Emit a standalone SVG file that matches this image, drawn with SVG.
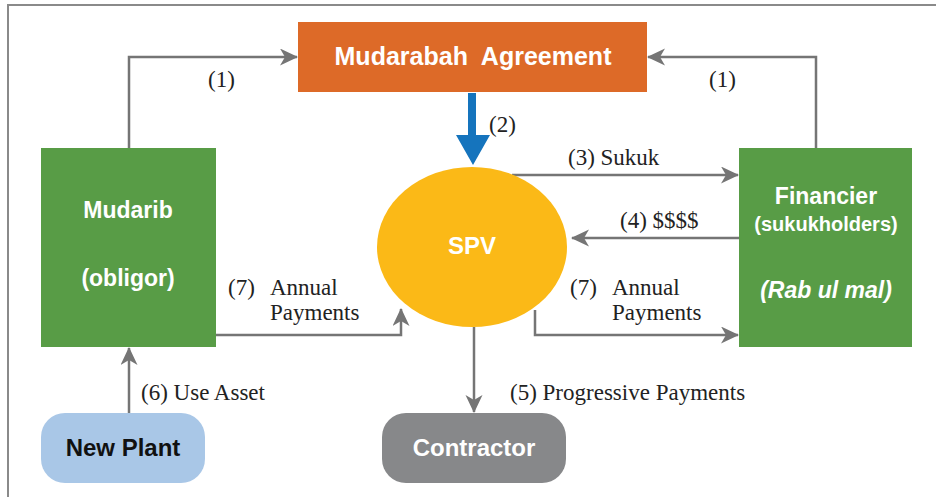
<svg xmlns="http://www.w3.org/2000/svg" width="936" height="497" viewBox="0 0 936 497">
<defs>
<style>
.box{font-family:"Liberation Sans",Arial,sans-serif;font-weight:bold;fill:#fff;text-anchor:middle}
.lbl{font-family:"Liberation Serif","Times New Roman",serif;font-size:23px;fill:#222}
.conn{fill:none;stroke:#757575;stroke-width:2.5}
</style>
<marker id="ah" markerUnits="userSpaceOnUse" markerWidth="20" markerHeight="18" refX="17" refY="8.5" orient="auto">
<path d="M0,0 L18,8.5 L0,17 L5,8.5 z" fill="#757575"/>
</marker>
</defs>
<rect x="0" y="0" width="936" height="497" fill="#fff"/>
<rect x="8" y="5" width="940" height="500" fill="none" stroke="#8a8a8a" stroke-width="2"/>

<g id="connectors">
<path class="conn" d="M129,148 V57 H297" marker-end="url(#ah)"/>
<path class="conn" d="M816,148 V57 H648" marker-end="url(#ah)"/>
<path class="conn" d="M512,175 H738" marker-end="url(#ah)"/>
<path class="conn" d="M739,238 H572" marker-end="url(#ah)"/>
<path class="conn" d="M216,335 H401 V309" marker-end="url(#ah)"/>
<path class="conn" d="M535,310 V335 H738" marker-end="url(#ah)"/>
<path class="conn" d="M474,327 V412" marker-end="url(#ah)"/>
<path class="conn" d="M129,413 V348" marker-end="url(#ah)"/>
<polygon points="468,93 476,93 476,135 490,135 473,165 456,135 468,135" fill="#1574BD"/>
<text class="lbl" x="208" y="87">(1)</text>
<text class="lbl" x="709" y="87">(1)</text>
<text class="lbl" x="489" y="132">(2)</text>
<text class="lbl" x="568" y="165">(3) Sukuk</text>
<text class="lbl" x="620" y="228">(4) $$$$</text>
<text class="lbl" x="228" y="295">(7)</text>
<text class="lbl" x="270" y="295">Annual</text>
<text class="lbl" x="270" y="320">Payments</text>
<text class="lbl" x="570" y="295">(7)</text>
<text class="lbl" x="612" y="295">Annual</text>
<text class="lbl" x="612" y="320">Payments</text>
<text class="lbl" x="510" y="400">(5) Progressive Payments</text>
<text class="lbl" x="141" y="400">(6) Use Asset</text>
</g>

<g id="agreement">
<rect x="298" y="22" width="349" height="70" fill="#DD6A28"/>
<text class="box" x="473" y="65" font-size="25" xml:space="preserve">Mudarabah  Agreement</text>
</g>

<g id="mudarib">
<rect x="41" y="148" width="175" height="199" fill="#589C46"/>
<text class="box" x="128" y="218" font-size="23">Mudarib</text>
<text class="box" x="128" y="286" font-size="23">(obligor)</text>
</g>

<g id="financier">
<rect x="739" y="148" width="173" height="199" fill="#589C46"/>
<text class="box" x="826" y="204" font-size="23">Financier</text>
<text class="box" x="826" y="231" font-size="20">(sukukholders)</text>
<text class="box" x="826" y="298" font-size="23" font-style="italic">(Rab ul mal)</text>
</g>

<g id="spv">
<ellipse cx="472" cy="247" rx="95" ry="80" fill="#FBB917"/>
<text class="box" x="472" y="254" font-size="24">SPV</text>
</g>

<g id="newplant">
<rect x="41" y="413" width="164" height="70" rx="24" fill="#A9C7E7"/>
<text class="box" x="123" y="456" font-size="24" style="fill:#111">New Plant</text>
</g>

<g id="contractor">
<rect x="382" y="413" width="184" height="70" rx="24" fill="#87888A"/>
<text class="box" x="474" y="456" font-size="24">Contractor</text>
</g>
</svg>
